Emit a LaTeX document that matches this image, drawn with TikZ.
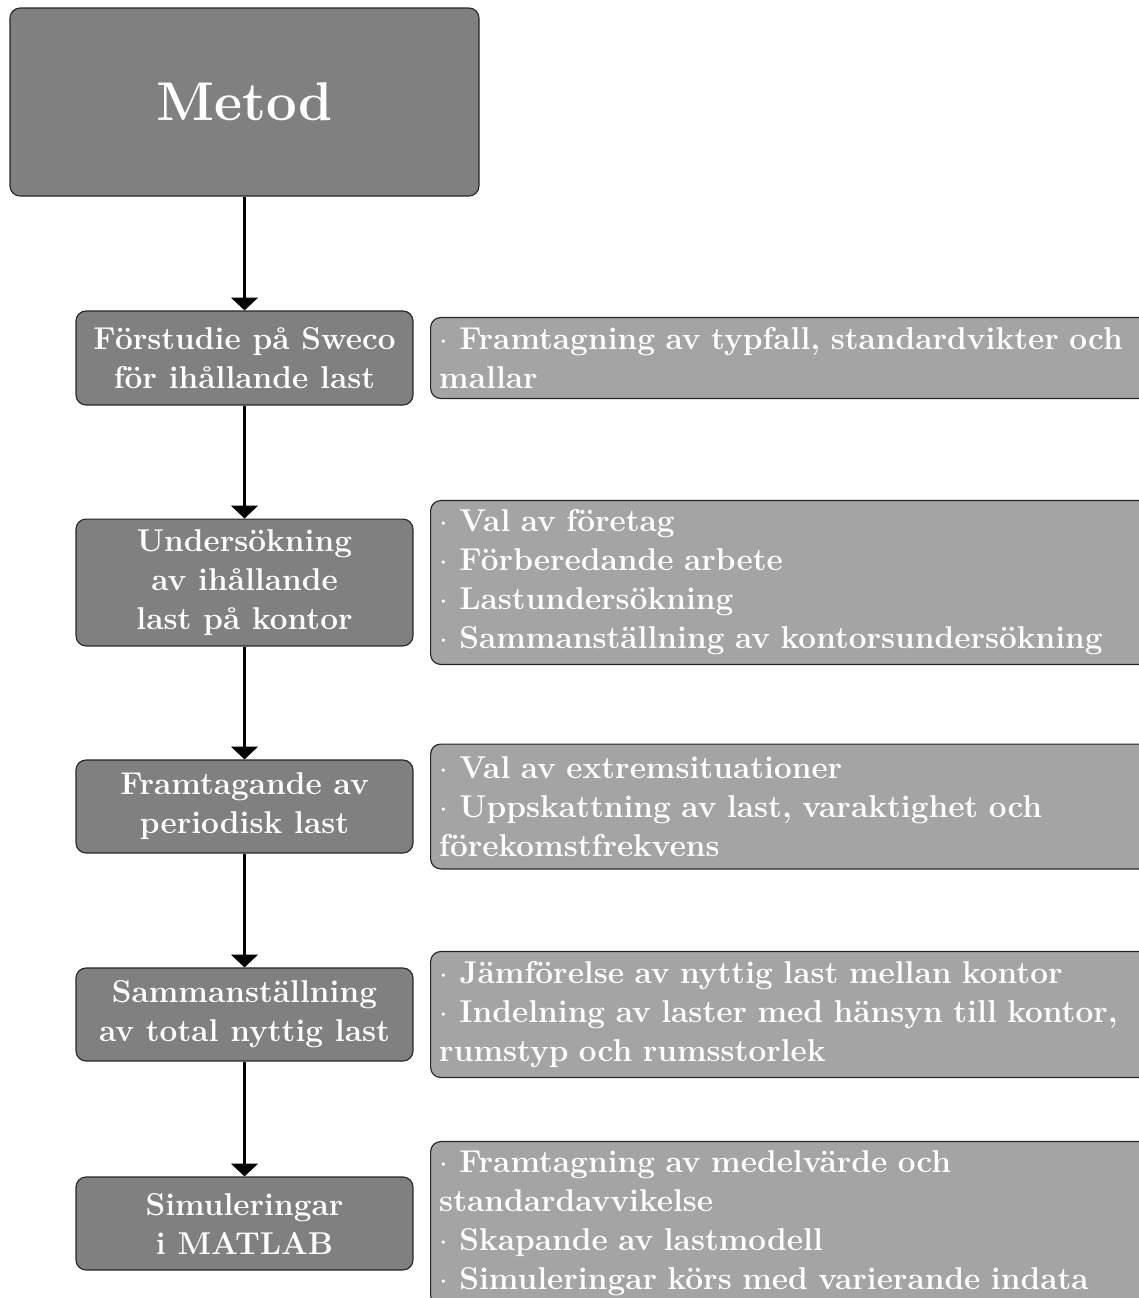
\documentclass[tikz,border=0pt]{standalone}
\usetikzlibrary{arrows.meta,positioning}
\definecolor{boxdark}{RGB}{128,128,128}
\definecolor{boxlight}{RGB}{164,164,164}
\newcommand\bulitem{$\cdot$\ \hspace{0.3pt}}
\begin{document}
\begin{tikzpicture}[x=0.3484pt,y=-0.3484pt,
  stage/.style={draw=black!85, line width=0.4pt, fill=boxdark, rounded corners=3.5pt,
    text=white, font=\fontsize{11}{13.6}\selectfont\bfseries, align=center,
    minimum width=117.4pt, inner sep=0pt},
  info/.style={draw=black!85, line width=0.4pt, fill=boxlight, rounded corners=3.5pt,
    text=white, font=\fontsize{11}{13.6}\selectfont\bfseries, align=left,
    text width=250pt, inner xsep=3pt, inner ysep=0pt, anchor=west},
  arr/.style={line width=0.7pt, -{Triangle[width=9.4pt,length=4.5pt]}}]
\useasboundingbox (0,0) rectangle (1139,1298);
\clip (0,0) rectangle (1139,1298);

\node[stage, minimum width=163.4pt, minimum height=65.5pt,
  font=\fontsize{19}{22}\selectfont\bfseries] (M) at (244.5,102) {Metod};

\node[stage, minimum height=32.75pt] (L1) at (244.5,358) {Förstudie på Sweco\\för ihållande last};
\node[stage, minimum height=44.2pt] (L2) at (244.5,582.5) {Undersökning\\av ihållande\\last på kontor};
\node[stage, minimum height=32.4pt] (L3) at (244.5,806.5) {Framtagande av\\periodisk last};
\node[stage, minimum height=32.4pt] (L4) at (244.5,1014.5) {Sammanställning\\av total nyttig last};
\node[stage, minimum height=32.4pt] (L5) at (244.5,1223.5) {Simuleringar\\i MATLAB};

\node[info, minimum height=28.2pt, right=5.75pt of L1] (R1)
  {\bulitem Framtagning av typfall, standardvikter och\\mallar};
\node[info, minimum height=57.1pt, right=5.75pt of L2] (R2)
  {\bulitem Val av företag\\\bulitem Förberedande arbete\\\bulitem Lastundersökning\\\bulitem Sammanställning av kontorsundersökning};
\node[info, minimum height=43.5pt, right=5.75pt of L3] (R3)
  {\bulitem Val av extremsituationer\\\bulitem Uppskattning av last, varaktighet och\\förekomstfrekvens};
\node[info, minimum height=43.9pt, right=5.75pt of L4] (R4)
  {\bulitem Jämförelse av nyttig last mellan kontor\\\bulitem Indelning av laster med hänsyn till kontor,\\rumstyp och rumsstorlek};
\node[info, minimum height=57.1pt, right=5.75pt of L5] (R5)
  {\bulitem Framtagning av medelvärde och\\standardavvikelse\\\bulitem Skapande av lastmodell\\\bulitem Simuleringar körs med varierande indata};

\draw[arr] (M.south) -- (L1.north);
\draw[arr] (L1.south) -- (L2.north);
\draw[arr] (L2.south) -- (L3.north);
\draw[arr] (L3.south) -- (L4.north);
\draw[arr] (L4.south) -- (L5.north);
\end{tikzpicture}
\end{document}
